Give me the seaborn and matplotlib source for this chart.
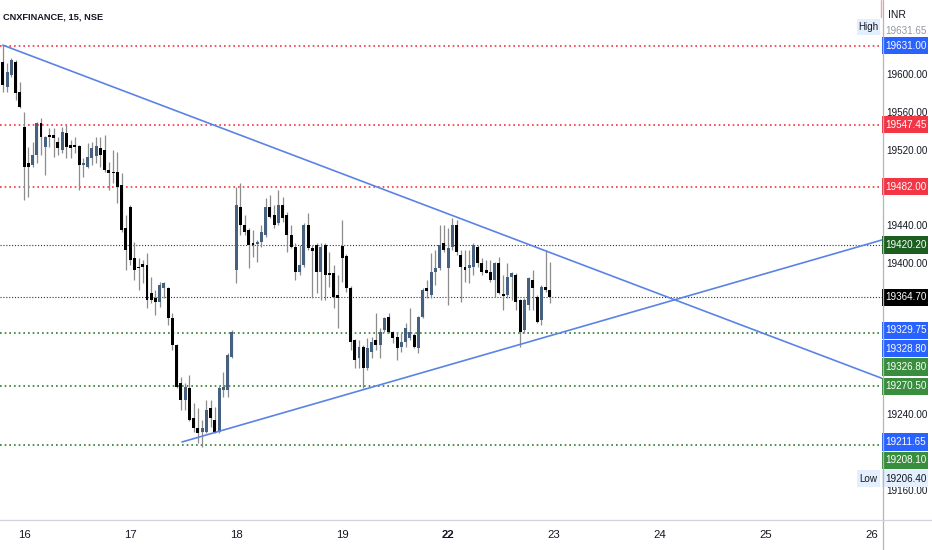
import numpy as np
import pandas as pd
import matplotlib
matplotlib.use("Agg")
import matplotlib.pyplot as plt
import seaborn as sns
from matplotlib.patches import Rectangle
from matplotlib.lines import Line2D

# ---------------- data ----------------
title = "CNXFINANCE, 15, NSE"
currency = "INR"

opens = [19623.3, 19613.8, 19587.3, 19600.0, 19613.8, 19582.0,
         19545.0, 19506.9, 19504.8, 19515.3, 19549.2, 19523.8, 19536.5, 19536.5, 19529.1, 19520.6,
         19538.6, 19525.9, 19524.9, 19524.9, 19504.8, 19502.6, 19512.2, 19514.3, 19522.7, 19520.6,
         19499.5, 19497.6, 19497.4, 19483.6, 19438.1,
         19460.3, 19406.3, 19396.8, 19400.0, 19398.9, 19369.3, 19364.0, 19359.8, 19374.6, 19374.6,
         19342.8, 19314.3, 19274.1, 19256.1, 19268.8, 19237.0, 19226.5, 19222.2, 19222.2, 19247.6,
         19234.9, 19222.2, 19266.7, 19266.7, 19301.6,
         19393.6, 19460.3, 19441.3, 19436.0, 19422.2, 19421.2, 19423.3, 19430.7, 19460.3, 19451.9,
         19443.4, 19462.4, 19451.9, 19430.7, 19418.0, 19391.5, 19398.9, 19441.3, 19416.9, 19420.1,
         19391.5, 19420.1, 19390.5, 19390.5, 19367.2,
         19419.0, 19408.5, 19374.6, 19319.6, 19300.5, 19312.2, 19289.9, 19306.9, 19319.6, 19314.3,
         19330.2, 19343.9, 19328.0, 19322.8, 19312.2, 19317.5, 19321.7, 19324.9, 19311.1, 19343.9,
         19374.6, 19367.2, 19391.5, 19395.8, 19422.2,
         19395.8, 19418.0, 19441.3, 19409.5, 19396.8, 19395.8, 19396.8, 19418.0, 19401.1, 19393.6,
         19391.5, 19383.1, 19401.1, 19368.2, 19367.2, 19386.2, 19388.4, 19361.9, 19330.2, 19356.6,
         19383.1, 19365.1, 19340.7, 19375.7, 19372.5]
highs = [19626.5, 19631.65, 19612.7, 19618.0, 19615.9, 19592.6,
         19560.8, 19523.8, 19529.1, 19550.3, 19554.5, 19535.4, 19543.9, 19543.9, 19534.4, 19545.0,
         19547.1, 19531.2, 19534.4, 19525.9, 19512.2, 19528.0, 19529.1, 19534.4, 19534.4, 19536.5,
         19507.9, 19520.6, 19518.5, 19496.3, 19451.9,
         19462.4, 19423.3, 19406.3, 19404.2, 19411.6, 19386.2, 19372.5, 19381.0, 19381.0, 19375.7,
         19348.1, 19315.4, 19280.4, 19274.1, 19282.5, 19252.9, 19247.6, 19234.9, 19256.1, 19256.1,
         19248.7, 19270.9, 19285.7, 19305.8, 19330.2,
         19482.0, 19485.7, 19451.9, 19438.1, 19436.0, 19425.4, 19441.3, 19469.8, 19473.0, 19462.4,
         19478.3, 19470.9, 19455.0, 19441.3, 19422.2, 19420.1, 19443.4, 19454.0, 19420.1, 19422.2,
         19422.2, 19422.2, 19412.7, 19398.9, 19388.4,
         19446.6, 19410.6, 19376.7, 19320.5, 19319.6, 19314.3, 19321.7, 19322.8, 19348.1, 19332.3,
         19343.9, 19348.1, 19329.0, 19328.0, 19327.0, 19337.6, 19353.4, 19327.0, 19344.8, 19374.6,
         19383.1, 19411.6, 19414.8, 19441.3, 19441.3,
         19438.1, 19448.7, 19446.6, 19414.8, 19414.8, 19414.8, 19422.2, 19420.1, 19406.3, 19404.2,
         19404.2, 19402.1, 19407.4, 19388.4, 19401.1, 19391.5, 19390.5, 19362.9, 19364.0, 19386.2,
         19393.6, 19367.2, 19377.8, 19414.8, 19402.1]
lows = [19609.5, 19582.0, 19582.0, 19597.9, 19573.5, 19565.1,
        19467.7, 19470.9, 19502.6, 19506.9, 19515.3, 19494.2, 19523.8, 19513.2, 19515.3, 19517.5,
        19512.2, 19512.2, 19517.5, 19478.3, 19492.1, 19501.5, 19504.8, 19506.9, 19502.6, 19497.4,
        19478.3, 19485.7, 19464.5, 19433.9, 19393.6,
        19398.9, 19383.1, 19372.5, 19379.9, 19353.4, 19358.7, 19346.0, 19354.4, 19364.0, 19335.4,
        19309.0, 19268.8, 19245.5, 19245.5, 19233.8, 19222.2, 19210.6, 19206.4, 19221.2, 19227.5,
        19221.2, 19221.2, 19259.3, 19259.3, 19300.5,
        19379.9, 19430.7, 19430.7, 19395.8, 19407.4, 19402.1, 19418.0, 19428.6, 19448.7, 19438.1,
        19441.3, 19444.4, 19412.7, 19416.9, 19383.1, 19388.4, 19396.8, 19414.8, 19364.0, 19369.3,
        19361.9, 19361.9, 19375.7, 19353.4, 19332.3,
        19381.0, 19370.4, 19309.0, 19289.9, 19289.9, 19268.8, 19287.8, 19300.5, 19309.0, 19300.5,
        19328.0, 19327.0, 19316.4, 19298.4, 19306.9, 19312.2, 19319.6, 19311.1, 19305.8, 19342.8,
        19364.0, 19364.0, 19377.8, 19393.6, 19412.7,
        19356.6, 19414.8, 19409.5, 19359.8, 19381.0, 19379.9, 19388.4, 19396.8, 19388.4, 19390.5,
        19381.0, 19365.1, 19368.2, 19351.3, 19364.0, 19361.9, 19351.3, 19312.2, 19327.0, 19351.3,
        19351.3, 19337.6, 19335.4, 19370.4, 19358.7]
closes = [19612.7, 19589.4, 19603.2, 19615.9, 19581.0, 19566.1,
          19502.6, 19502.6, 19515.3, 19549.2, 19534.4, 19534.4, 19534.4, 19533.3, 19522.7, 19539.7,
          19523.8, 19522.7, 19524.2, 19504.8, 19506.9, 19513.2, 19522.7, 19524.9, 19515.3, 19499.5,
          19496.3, 19496.0, 19481.5, 19436.0, 19414.8,
          19404.2, 19393.6, 19395.8, 19396.8, 19361.9, 19361.9, 19359.8, 19377.8, 19379.9, 19342.8,
          19314.3, 19269.8, 19256.1, 19269.8, 19234.9, 19226.5, 19221.2, 19226.5, 19245.5, 19237.0,
          19222.2, 19268.8, 19269.8, 19303.7, 19328.0,
          19462.4, 19441.3, 19433.9, 19420.1, 19420.1, 19423.3, 19433.9, 19460.3, 19449.7, 19441.3,
          19462.4, 19448.7, 19430.7, 19418.0, 19391.5, 19398.9, 19441.3, 19416.9, 19413.7, 19391.5,
          19418.0, 19388.4, 19388.4, 19365.1, 19364.0,
          19406.3, 19374.6, 19317.5, 19298.4, 19312.2, 19289.9, 19311.1, 19317.5, 19314.3, 19328.0,
          19342.8, 19328.0, 19321.7, 19311.1, 19317.5, 19332.3, 19328.0, 19312.2, 19343.9, 19372.5,
          19371.4, 19391.5, 19395.8, 19420.1, 19414.8,
          19416.9, 19441.3, 19412.7, 19396.8, 19393.6, 19398.9, 19420.1, 19401.1, 19391.5, 19391.0,
          19383.1, 19401.1, 19369.3, 19366.1, 19386.2, 19390.5, 19359.8, 19328.0, 19361.9, 19385.2,
          19374.6, 19338.6, 19375.7, 19372.5, 19364.7]

day_labels = ["16", "17", "18", "19", "22", "23", "24", "25", "26"]
day_start_index = [6, 31, 56, 81, 106, 131, 156, 181, 206]
bold_day = "22"
price_ticks = [19160, 19240, 19400, 19440, 19520, 19560, 19600]

resistance_levels = [19631.00, 19547.45, 19482.00]
support_levels = [19326.80, 19270.50, 19208.10]
reference_levels = [19420.20, 19364.70]

trend_down_x = [1.0, 210.0]
trend_down_y = [19631.65, 19276.2]
trend_up_x = [43.25, 210.0]
trend_up_y = [19211.65, 19427.6]

scale_values = [19631.00, 19547.45, 19482.00, 19420.20, 19364.70, 19329.75,
                19328.80, 19326.80, 19270.50, 19211.65, 19208.10, 19206.40]
scale_kinds = ["blue", "red", "red", "darkgreen", "black", "blue",
               "blue", "green", "green", "blue", "green", "low"]
high_value = 19631.65

# ---------------- style ----------------
sns.set_theme(style="white")
plt.rcParams["font.family"] = ["Liberation Sans", "DejaVu Sans"]
TXT = "#131722"
FS = 7.1
kind_colors = {"blue": ("#2962ff", "white"), "red": ("#f23645", "white"),
               "darkgreen": ("#1b5e20", "white"), "black": ("#000000", "white"),
               "green": ("#388e3c", "white"), "low": ("#e3effd", TXT)}

W, H = 932, 550
fig = plt.figure(figsize=(W / 100, H / 100), dpi=100)
fig.patch.set_facecolor("white")
ax = fig.add_axes([0, 30 / H, 882 / W, 520 / H])
ylim = (19129.1, 19679.4)
xlim = (0.33, 208.35)

o = np.array(opens); c = np.array(closes); hi = np.array(highs); lo = np.array(lows)
x = np.arange(len(o))
up = c >= o
ax.vlines(x, lo, hi, color="#8c8c8c", lw=0.9, zorder=3)
body_bottom = np.minimum(o, c)
body_h = np.maximum(np.abs(c - o), 1.3)
ax.bar(x, body_h, bottom=body_bottom, width=0.7,
       color=np.where(up, "#46617f", "#000000"), linewidth=0, zorder=4)

for v in resistance_levels:
    ax.axhline(v, color="#f23645", lw=1.2, ls=(0, (1, 1.8)), zorder=2)
for v in support_levels:
    ax.axhline(v, color="#2e7d32", lw=1.2, ls=(0, (1, 1.8)), zorder=2)
for v in reference_levels:
    ax.axhline(v, color="#333333", lw=0.8, ls=(0, (1, 1.6)), zorder=2)

trend_df = pd.DataFrame({
    "x": trend_down_x + trend_up_x,
    "y": trend_down_y + trend_up_y,
    "line": ["down"] * 2 + ["up"] * 2})
sns.lineplot(data=trend_df, x="x", y="y", units="line", estimator=None, sort=False,
             color="#5b83e6", lw=1.2, ax=ax, zorder=5)

ax.set_xlim(*xlim)
ax.set_ylim(*ylim)
ax.set_xlabel(""); ax.set_ylabel("")
ax.set_yticks([])
ax.set_xticks(day_start_index)
ax.set_xticklabels(day_labels, fontsize=8.2, color=TXT)
for lab in ax.get_xticklabels():
    if lab.get_text() == bold_day:
        lab.set_fontweight("bold")
ax.tick_params(axis="x", length=0, pad=7)
for s in ax.spines.values():
    s.set_visible(False)

ax.text(3 / 882, 1 - 17 / 520, title, transform=ax.transAxes, fontsize=6.7,
        color=TXT, va="center", ha="left", fontweight="bold")

# price scale
sax = fig.add_axes([882 / W, 30 / H, 50 / W, 520 / H])
sax.set_xlim(0, 50)
sax.set_ylim(*ylim)
sax.axis("off")
ppu = 520 / (ylim[1] - ylim[0])  # px per price unit

def px_of(v):
    return (ylim[1] - v) * ppu

def val_of(p):
    return ylim[1] - p / ppu

for t in price_ticks:
    sax.text(4, t, f"{t:.2f}", fontsize=FS, color=TXT, va="center", ha="left", zorder=1)

box_h = 17.5
prev = -100
for v, k in zip(scale_values, scale_kinds):
    p = max(px_of(v), prev + box_h + 0.8)
    prev = p
    fc, tc = kind_colors[k]
    yc = val_of(p)
    sax.add_patch(Rectangle((0, val_of(p + box_h / 2)), 46, box_h / ppu, facecolor=fc,
                            edgecolor="none", zorder=3, clip_on=False))
    sax.text(3.5, yc, f"{v:.2f}", fontsize=FS, color=tc, va="center", ha="left", zorder=4)
    if k == "low":
        sax.add_patch(Rectangle((-25, val_of(p + box_h / 2)), 23, box_h / ppu,
                                facecolor="#e3effd", edgecolor="none", zorder=3, clip_on=False))
        sax.text(-13.5, yc, "Low", fontsize=FS, color=TXT, va="center", ha="center",
                 zorder=4, clip_on=False)

# High marker (partly behind the top label)
ph = px_of(high_value) - 18
sax.add_patch(Rectangle((-25, val_of(ph + 8)), 23, 16 / ppu, facecolor="#e3effd",
                        edgecolor="none", zorder=2, clip_on=False))
sax.text(-13.5, val_of(ph), "High", fontsize=FS, color=TXT, va="center", ha="center",
         zorder=2, clip_on=False)
sax.text(3.5, val_of(ph + 4), f"{high_value:.2f}", fontsize=FS, color="#9598a1",
         va="center", ha="left", zorder=2)
sax.text(6, val_of(15), currency, fontsize=FS + 0.4, color=TXT, va="center", ha="left")

# frame lines
fig.add_artist(Line2D([882.5 / W, 882.5 / W], [0, 1], color="#b2b5be", lw=0.9))
fig.add_artist(Line2D([0, 1], [30 / H, 30 / H], color="#d1d4dc", lw=0.9))
fig.add_artist(Line2D([881 / W, 881 / W], [1 - 17 / H, 1], color="#f7a1b0", lw=1.0))

fig.savefig("out.png", dpi=100, facecolor="white")
